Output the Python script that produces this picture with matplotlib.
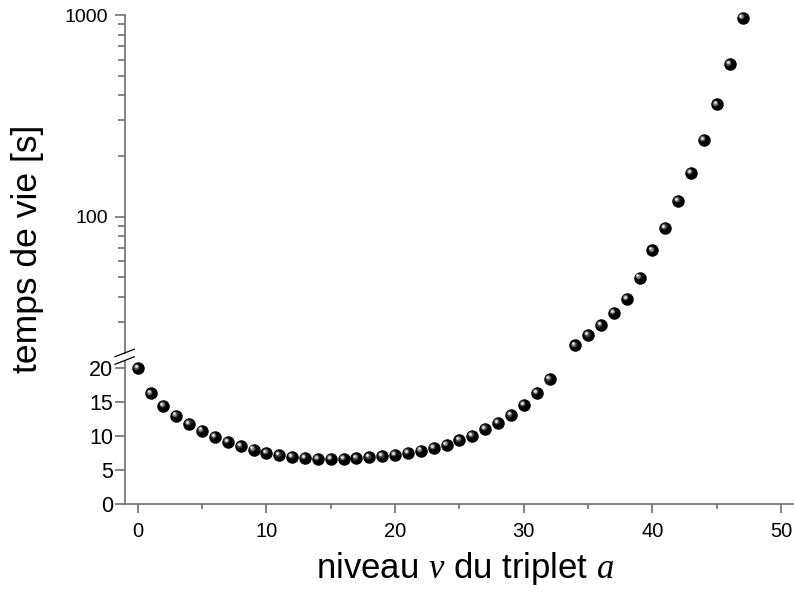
import numpy as np
import matplotlib
matplotlib.use('Agg')
import matplotlib.pyplot as plt
from matplotlib.transforms import offset_copy
from matplotlib.lines import Line2D
from matplotlib.ticker import FixedLocator, FixedFormatter, NullFormatter, NullLocator

plt.rcParams['font.family'] = 'Liberation Sans'
plt.rcParams['mathtext.fontset'] = 'custom'
plt.rcParams['mathtext.it'] = 'Liberation Serif:italic'
plt.rcParams['mathtext.rm'] = 'Liberation Sans'

# lifetimes of the vibrational levels, lower part (linear axis)
v_low = np.arange(0, 33)
tau_low = [20.0, 16.3, 14.5, 13.05, 11.8, 10.85, 9.95, 9.15, 8.55, 8.05,
           7.55, 7.2, 7.0, 6.8, 6.7, 6.65, 6.65, 6.75, 6.9, 7.05,
           7.25, 7.55, 7.9, 8.3, 8.75, 9.4, 10.1, 11.1, 11.95, 13.1,
           14.6, 16.4, 18.4]

# upper part (log axis)
v_high = np.arange(34, 48)
tau_high = [23.0, 25.8, 29.0, 33.4, 39.1, 49.9, 68.0, 88.0, 120.0, 165.0,
            240.0, 360.0, 570.0, 970.0]

xticks = [0, 10, 20, 30, 40, 50]
ticks_low = [0, 5, 10, 15, 20]
ticks_high = [100, 1000]
labels_high = ['100', '1000']

W, H = 794, 595
fig = plt.figure(figsize=(W / 100, H / 100), dpi=100)

axc = '#707070'
left = 125 / W
width = (W - 125) / W
ax_lo = fig.add_axes([left, (H - 504.3) / H, width, (504.3 - 361) / H])
ax_hi = fig.add_axes([left, (H - 353) / H, width, (353 - 15) / H])

for ax in (ax_lo, ax_hi):
    ax.set_xlim(-0.99, 51.0)
    ax.spines['top'].set_visible(False)
    ax.spines['right'].set_visible(False)
    for s in ('left', 'bottom'):
        ax.spines[s].set_color(axc)
        ax.spines[s].set_linewidth(1.2)
    ax.tick_params(which='major', direction='out', color=axc, width=1.2,
                   labelsize=14, labelcolor='black')
    ax.tick_params(which='minor', direction='out', color=axc, width=1.2)
    ax.patch.set_visible(False)

ax_lo.set_ylim(0, 21.07)
ax_lo.set_xticks(xticks)
ax_lo.xaxis.set_minor_locator(FixedLocator([5, 15, 25, 35, 45]))
ax_lo.set_yticks(ticks_low)
ax_lo.tick_params(axis='x', which='major', length=6.5, pad=6, labelsize=14.5)
ax_lo.tick_params(axis='x', which='minor', length=3.8)
ax_lo.tick_params(axis='y', which='major', length=7, pad=1.5, labelsize=15.5)

ax_hi.set_yscale('log')
ax_hi.set_ylim(21.1, 1000)
ax_hi.spines['bottom'].set_visible(False)
ax_hi.xaxis.set_major_locator(NullLocator())
ax_hi.xaxis.set_minor_locator(NullLocator())
ax_hi.yaxis.set_major_locator(FixedLocator(ticks_high))
ax_hi.yaxis.set_major_formatter(FixedFormatter(labels_high))
ax_hi.yaxis.set_minor_locator(FixedLocator([30, 40, 50, 60, 70, 80, 90,
                                            200, 300, 400, 500, 600, 700, 800, 900]))
ax_hi.yaxis.set_minor_formatter(NullFormatter())
ax_hi.tick_params(axis='y', which='major', length=7, pad=5)
ax_hi.tick_params(axis='y', which='minor', length=5)


def balls(ax, x, y):
    # shaded sphere: black disc plus a soft highlight toward the upper left
    ax.plot(x, y, 'o', ms=9.0, color='black', mec='black', mew=0, clip_on=False, zorder=3)
    layers = [(4.4, '#3a3a3a', -1.6, 1.6), (3.1, '#8a8a8a', -1.9, 1.9),
              (1.9, '#d8d8d8', -2.1, 2.1), (0.9, 'white', -2.2, 2.2)]
    for ms, c, dx, dy in layers:
        tr = offset_copy(ax.transData, fig=fig, x=dx, y=dy, units='dots')
        ax.plot(x, y, 'o', ms=ms, color=c, mew=0, transform=tr, clip_on=False, zorder=4)


balls(ax_lo, v_low, tau_low)
balls(ax_hi, v_high, tau_high)

# axis break marks
for y0 in (356.7, 364.3):
    fig.add_artist(Line2D([115 / W, 134.3 / W], [(H - y0) / H, (H - y0 + 7.5) / H],
                          color='black', lw=0.9, transform=fig.transFigure))

fig.text(465 / W, (H - 578) / H, r'niveau $v$ du triplet $a$', fontsize=25,
         ha='center', va='baseline')
fig.text(27 / W, (H - 249) / H, 'temps de vie [s]', fontsize=25.5, rotation=90,
         ha='center', va='center')

fig.savefig('out.png', dpi=100)
